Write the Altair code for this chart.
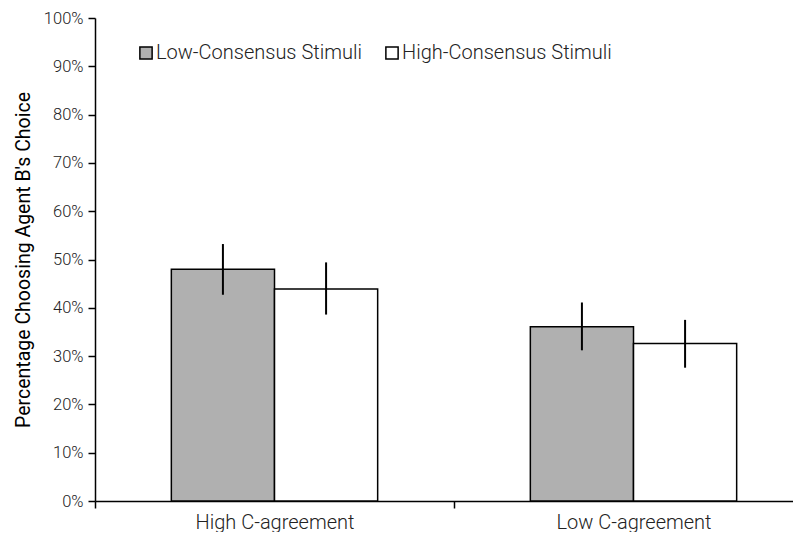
import altair as alt
import pandas as pd

groups = ["High C-agreement", "Low C-agreement"]
stimuli = ["Low-Consensus Stimuli", "High-Consensus Stimuli"]
low_vals = [0.480, 0.361]
high_vals = [0.439, 0.326]
low_lo = [0.427, 0.312]
low_hi = [0.532, 0.411]
high_lo = [0.386, 0.276]
high_hi = [0.494, 0.375]
y_ticks = [i / 10 for i in range(11)]

rows = []
for i, g in enumerate(groups):
    rows.append({"group": g, "stimulus": stimuli[0], "value": low_vals[i], "lo": low_lo[i], "hi": low_hi[i]})
    rows.append({"group": g, "stimulus": stimuli[1], "value": high_vals[i], "lo": high_lo[i], "hi": high_hi[i]})
df = pd.DataFrame(rows)

FONT = "Roboto"

x_enc = alt.X(
    "group:N",
    sort=groups,
    scale=alt.Scale(range=[0, 718], paddingInner=0, paddingOuter=0),
    axis=alt.Axis(title=None, labelAngle=0, tickBand="extent", tickSize=7,
                  domainColor="black", tickColor="black", domainWidth=1.5, tickWidth=1.5,
                  labelFontSize=20, labelColor="#222", labelPadding=4, labelFont=FONT,
                  labelFontWeight=300),
)
xo_enc = alt.XOffset("stimulus:N", sort=stimuli,
                     scale=alt.Scale(domain=stimuli, paddingOuter=0.74, paddingInner=0))

bars = alt.Chart(df).mark_bar(stroke="black", strokeWidth=1.5).encode(
    x=x_enc,
    xOffset=xo_enc,
    y=alt.Y("value:Q", scale=alt.Scale(domain=[0, 1]),
            axis=alt.Axis(values=y_ticks, format=".0%", grid=False, tickSize=7,
                          domainColor="black", tickColor="black", domainWidth=1.5, tickWidth=1.5,
                          labelFontSize=16.5, labelColor="#222", labelFont=FONT, labelFontWeight=300,
                          labelPadding=5,
                          title="Percentage Choosing Agent B's Choice", titleFontSize=19.5,
                          titleFont=FONT, titleFontWeight=400, titleColor="black", titlePadding=10)),
    color=alt.Color("stimulus:N", sort=stimuli,
                    scale=alt.Scale(domain=stimuli, range=["#b0b0b0", "#ffffff"]),
                    legend=alt.Legend(title=None, orient="none", legendX=41, legendY=25,
                                      direction="horizontal", symbolType="square", symbolSize=150,
                                      symbolStrokeColor="black", symbolStrokeWidth=1.5,
                                      labelFontSize=20, labelFont=FONT, labelFontWeight=300,
                                      labelColor="#222", columnPadding=20, labelOffset=0,
                                      labelLimit=0)),
)

errs = alt.Chart(df).mark_rule(color="black", strokeWidth=2).encode(
    x=x_enc,
    xOffset=xo_enc,
    y="lo:Q",
    y2="hi:Q",
)

chart = alt.layer(bars, errs).properties(
    width=698, height=483,
    autosize=alt.AutoSizeParams(type="none"),
    padding={"left": 87, "top": 10, "right": 0, "bottom": 31},
).configure_view(stroke=None)

chart.save("out.html", embed_options={"renderer": "svg", "actions": False})
